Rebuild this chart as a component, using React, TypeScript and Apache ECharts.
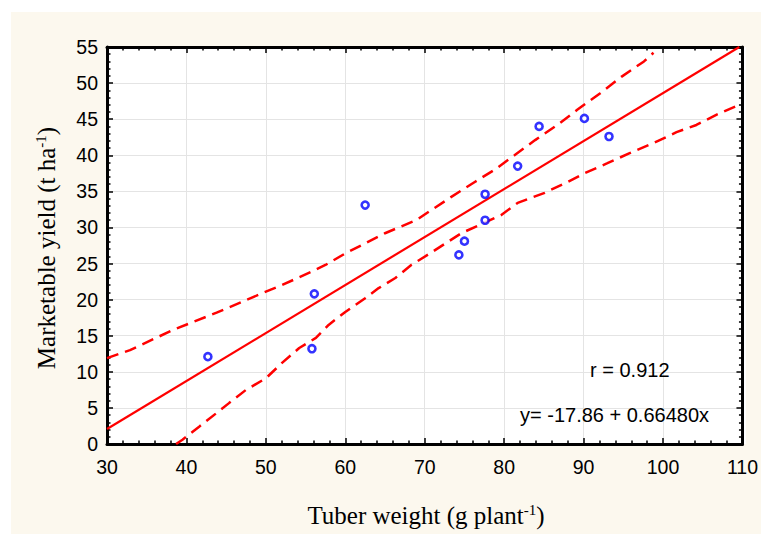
import React, { useEffect, useRef } from "react";
import * as echarts from "echarts";

// Observed points (tuber weight, marketable yield)
const tuberWeight = [42.7, 56.1, 55.8, 62.5, 74.3, 75.0, 77.6, 77.6, 81.7, 84.4, 90.1, 93.2];
const marketableYield = [12.1, 20.8, 13.2, 33.1, 26.2, 28.1, 31.0, 34.6, 38.5, 44.0, 45.1, 42.6];

// Regression line endpoints
const fitLine: [number, number][] = [[30, 2.08], [109.6, 55]];

// Upper confidence band
const upperBand: [number, number][] = [
  [30.0, 11.9], [32.9, 13.0], [38.3, 15.8], [43.8, 18.2],
  [50.0, 21.1], [52.0, 22.0], [55.8, 23.9], [57.5, 24.8], [60.0, 26.4], [62.5, 27.8],
  [65.0, 29.2], [68.9, 31.0], [73.3, 34.2], [76.3, 36.3], [78.8, 38.0], [81.3, 40.0],
  [83.9, 42.1], [86.7, 44.2], [89.2, 46.3], [92.1, 48.6], [94.8, 50.9], [97.6, 53.0],
  [98.8, 54.2],
];

// Lower confidence band
const lowerBand: [number, number][] = [
  [38.7, 0.0], [39.5, 0.6], [41.6, 2.4], [43.8, 4.3], [45.4, 5.7], [47.5, 7.5], [50.0, 9.1],
  [52.0, 11.2], [54.2, 13.3], [56.3, 14.7], [57.9, 16.5], [60.0, 18.3], [62.5, 20.2],
  [64.2, 21.6], [66.3, 23.0], [68.3, 24.8], [70.8, 26.5], [74.6, 29.2], [77.6, 30.7],
  [79.6, 31.7], [81.7, 33.4], [85.1, 34.8], [88.0, 36.3], [90.1, 37.5], [93.0, 38.9],
  [95.8, 40.3], [98.8, 41.7], [101.7, 43.2], [104.2, 44.2], [106.7, 45.6], [109.6, 47.0],
];

const xTicks = { min: 30, max: 110, interval: 10 };
const yTicks = { min: 0, max: 55, interval: 5 };

const rText = "r = 0.912";
const eqText = "y= -17.86 + 0.66480x";

export default function App() {
  const ref = useRef<HTMLDivElement>(null);
  useEffect(() => {
    document.body.style.margin = "0";
    const chart = echarts.init(ref.current!, null, { renderer: "svg" });
    const points = tuberWeight.map((x, i) => [x, marketableYield[i]]);
    const sans = "Liberation Sans, Arial, sans-serif";
    const serif = "Liberation Serif, Times New Roman, serif";
    const tickCommon = {
      axisLine: { show: true, onZero: false, lineStyle: { color: "#000", width: 3 } },
      axisTick: { show: true, inside: true, length: 6, lineStyle: { color: "#000", width: 1.5 } },
      minorTick: { show: true, splitNumber: 5, length: 3.5, lineStyle: { color: "#000", width: 1.5 } },
    };
    const titleRich = {
      a: { fontSize: 25, fontFamily: serif, fill: "#000" },
      s: { fontSize: 15, fontFamily: serif, fill: "#000", verticalAlign: "top", padding: [0, 0, 10, 0] },
    };
    chart.setOption({
      animation: false,
      backgroundColor: "#ffffff",
      grid: { left: 107, top: 47, right: 15, bottom: 90, containLabel: false },
      xAxis: [
        {
          type: "value", position: "bottom", ...xTicks, ...tickCommon,
          splitLine: { show: true, lineStyle: { color: "#e4e4e4", width: 1 } },
          axisLabel: { color: "#000", fontSize: 19.5, fontFamily: sans, margin: 13 },
        },
        {
          type: "value", position: "top", ...xTicks, ...tickCommon,
          splitLine: { show: false }, axisLabel: { show: false },
        },
      ],
      yAxis: [
        {
          type: "value", position: "left", ...yTicks, ...tickCommon,
          splitLine: { show: true, lineStyle: { color: "#e4e4e4", width: 1 } },
          axisLabel: { color: "#000", fontSize: 19.5, fontFamily: sans, margin: 9 },
        },
        {
          type: "value", position: "right", ...yTicks, ...tickCommon,
          splitLine: { show: false }, axisLabel: { show: false },
        },
      ],
      graphic: [
        {
          type: "rect", z: -10, silent: true,
          shape: { x: 11, y: 12, width: 761, height: 534 },
          style: { fill: "#fcf8ee" },
        },
        {
          type: "rect", z: -9, silent: true,
          shape: { x: 107, y: 47, width: 639, height: 397 },
          style: { fill: "#ffffff" },
        },
        {
          type: "text", x: 590, y: 370, z: 10,
          style: { text: rText, fontSize: 20, fontFamily: sans, fill: "#000", verticalAlign: "middle" },
        },
        {
          type: "text", x: 520, y: 415, z: 10,
          style: { text: eqText, fontSize: 20, fontFamily: sans, fill: "#000", verticalAlign: "middle" },
        },
        {
          type: "text", x: 426, y: 515, z: 10,
          style: {
            text: "{a|Tuber weight (g plant}{s|-1}{a|)}",
            align: "center", verticalAlign: "middle", rich: titleRich,
          },
        },
        {
          type: "text", x: 46, y: 248, rotation: Math.PI / 2, z: 10,
          style: {
            text: "{a|Marketable yield (t ha}{s|-1}{a|)}",
            align: "center", verticalAlign: "middle", rich: titleRich,
          },
        },
      ],
      series: [
        {
          type: "line", data: upperBand, showSymbol: false, symbol: "none", clip: true,
          lineStyle: { color: "#ff0000", width: 2.5, type: [12, 7] },
        },
        {
          type: "line", data: lowerBand, showSymbol: false, symbol: "none", clip: true,
          lineStyle: { color: "#ff0000", width: 2.5, type: [12, 7] },
        },
        {
          type: "line", data: fitLine, showSymbol: false, symbol: "none", clip: true,
          lineStyle: { color: "#ff0000", width: 2.2 },
        },
        {
          type: "scatter", data: points, symbol: "circle", symbolSize: 7,
          itemStyle: { color: "#ffffff", borderColor: "#0000ff", borderWidth: 2.6 },
          z: 5,
        },
      ],
    });
    return () => chart.dispose();
  }, []);
  return <div ref={ref} style={{ position: "absolute", left: 0, top: 0, width: 761, height: 534 }} />;
}
